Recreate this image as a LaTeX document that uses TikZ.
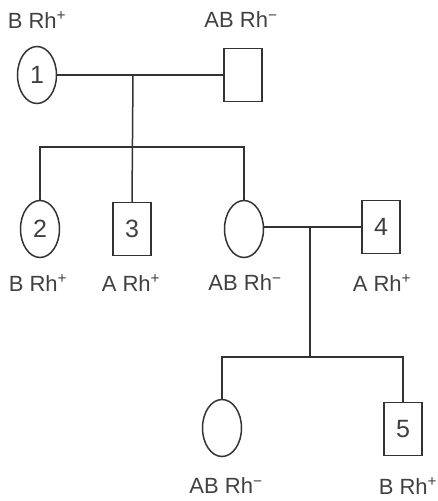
\documentclass[tikz,border=0pt]{standalone}
\usepackage{fontspec}
\setmainfont{Liberation Sans}
\usetikzlibrary{shapes.geometric}
\tikzset{
  line/.style={draw=black!80, line width=1.5pt},
  female/.style={line, ellipse, minimum width=39pt, minimum height=57pt, inner sep=0pt,
                 font=\fontsize{25}{25}\selectfont, text=black!75},
  male/.style={line, rectangle, minimum width=38pt, minimum height=53pt, inner sep=0pt,
               font=\fontsize{25}{25}\selectfont, text=black!75},
  lbl/.style={font=\fontsize{22}{22}\selectfont, text=black!75, inner sep=0pt}
}
\newcommand{\rhp}{Rh\textsuperscript{+}}
\newcommand{\rhm}{Rh\textsuperscript{−}}
\begin{document}
\begin{tikzpicture}[x=1pt, y=-1pt]
  \useasboundingbox (0,0) rectangle (437,501);

  % first generation
  \node[female] (p1) at (37,75) {1};
  \node[male]   (p2) at (243,75) {};
  \node[lbl] (l1) at (37,20) {B \rhp};
  \node[lbl] (l2) at (241,20) {AB \rhm};

  % second generation
  \node[female] (c2) at (40,229) {2};
  \node[male]   (c3) at (132,229) {3};
  \node[female] (c4) at (244,229) {};
  \node[male]   (c5) at (381,227) {4};
  \node[lbl] (l3) at (38,283) {B \rhp};
  \node[lbl] (l4) at (131,283) {A \rhp};
  \node[lbl] (l5) at (245,283) {AB \rhm};
  \node[lbl] (l6) at (382,283) {A \rhp};

  % third generation
  \node[female] (g1) at (222,428) {};
  \node[male]   (g2) at (403,429) {5};
  \node[lbl] (l7) at (226,486) {AB \rhm};
  \node[lbl] (l8) at (408,486) {B \rhp};

  % couples and descent lines
  \coordinate (m1) at (133,75);
  \coordinate (s1) at (133,147);
  \draw[line] (p1) -- (p2);
  \draw[line] (m1) -- (c3.north);
  \draw[line] (c2.north) |- (s1) -| (c4.north);

  \coordinate (m2) at (310,227);
  \coordinate (s2) at (310,357);
  \draw[line] (c4.east |- m2) -- (c5.west |- m2);
  \draw[line] (m2) -- (s2);
  \draw[line] (g1.north) |- (s2) -| (g2.north);
\end{tikzpicture}
\end{document}
